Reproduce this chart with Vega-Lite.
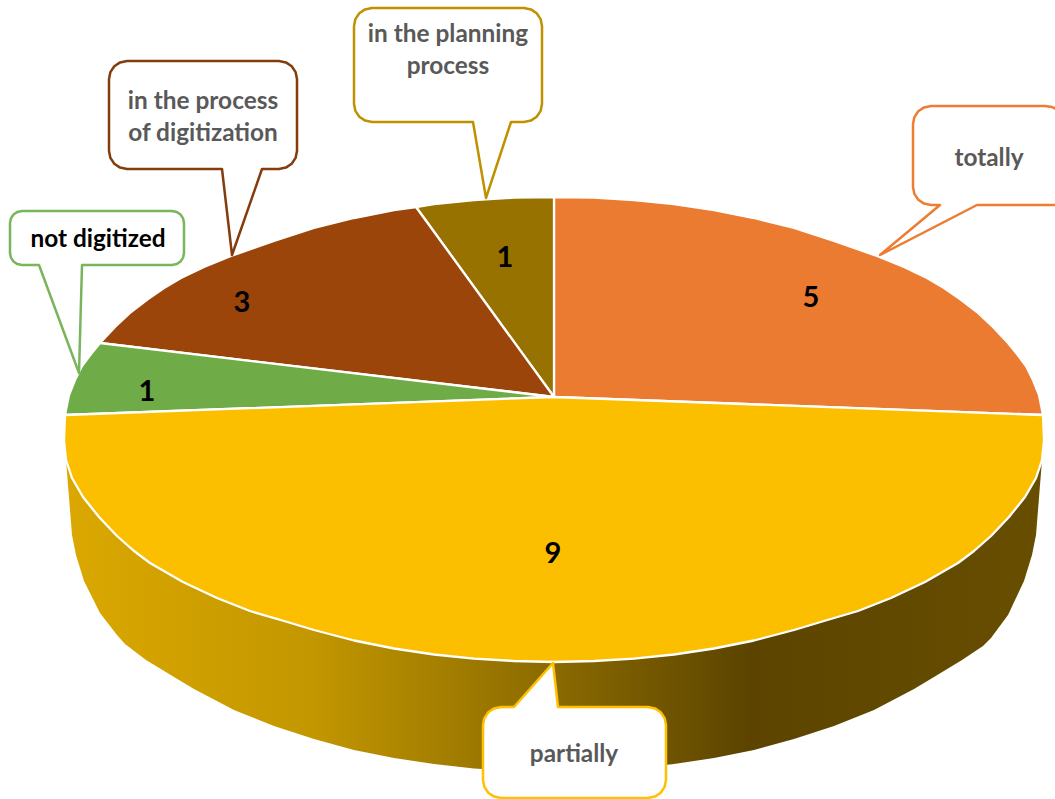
{"$schema":"https://vega.github.io/schema/vega-lite/v6.json","width":1055,"height":799,"autosize":"none","padding":0,"background":"white","view":{"stroke":null},
"datasets":{
"side":[{"x":66,"top":440,"bottom":460},{"x":72,"top":440,"bottom":535},{"x":76,"top":440,"bottom":555},{"x":84,"top":440,"bottom":581},{"x":100,"top":440,"bottom":613},{"x":117,"top":440,"bottom":635},{"x":125,"top":440,"bottom":644},{"x":146,"top":440,"bottom":660},{"x":174,"top":440,"bottom":677},{"x":194,"top":440,"bottom":689},{"x":234,"top":440,"bottom":710},{"x":274,"top":440,"bottom":726},{"x":314,"top":440,"bottom":739},{"x":354,"top":440,"bottom":750},{"x":394,"top":440,"bottom":758},{"x":434,"top":440,"bottom":764},{"x":474,"top":440,"bottom":768.6},{"x":514,"top":440,"bottom":771},{"x":554,"top":440,"bottom":772},{"x":594,"top":440,"bottom":771},{"x":634,"top":440,"bottom":768.6},{"x":674,"top":440,"bottom":764},{"x":714,"top":440,"bottom":758},{"x":754,"top":440,"bottom":750},{"x":794,"top":440,"bottom":739},{"x":834,"top":440,"bottom":726},{"x":874,"top":440,"bottom":710},{"x":914,"top":440,"bottom":689},{"x":934,"top":440,"bottom":677},{"x":962,"top":440,"bottom":660},{"x":983,"top":440,"bottom":646},{"x":991,"top":440,"bottom":638},{"x":1008,"top":440,"bottom":615},{"x":1024,"top":440,"bottom":581},{"x":1032,"top":440,"bottom":555},{"x":1036,"top":440,"bottom":535},{"x":1042,"top":440,"bottom":460}],
"slices":[
{"category":"totally","i":0,"x":554,"y":397},{"category":"totally","i":1,"x":554,"y":197},{"category":"totally","i":2,"x":594,"y":197.7},{"category":"totally","i":3,"x":634,"y":200},{"category":"totally","i":4,"x":674,"y":204},{"category":"totally","i":5,"x":714,"y":210},{"category":"totally","i":6,"x":754,"y":218},{"category":"totally","i":7,"x":794,"y":228},{"category":"totally","i":8,"x":834,"y":241},{"category":"totally","i":9,"x":854,"y":248},{"category":"totally","i":10,"x":877,"y":256},{"category":"totally","i":11,"x":904,"y":267},{"category":"totally","i":12,"x":927,"y":278},{"category":"totally","i":13,"x":944,"y":288},{"category":"totally","i":14,"x":960,"y":299},{"category":"totally","i":15,"x":977,"y":312},{"category":"totally","i":16,"x":993,"y":327},{"category":"totally","i":17,"x":1008,"y":343},{"category":"totally","i":18,"x":1017,"y":354},{"category":"totally","i":19,"x":1026,"y":366},{"category":"totally","i":20,"x":1033,"y":380},{"category":"totally","i":21,"x":1039,"y":395},{"category":"totally","i":22,"x":1043,"y":415},{"category":"totally","i":23,"x":554,"y":397},
{"category":"in the planning process","i":0,"x":554,"y":397},{"category":"in the planning process","i":1,"x":416,"y":207},{"category":"in the planning process","i":2,"x":434,"y":204},{"category":"in the planning process","i":3,"x":474,"y":200},{"category":"in the planning process","i":4,"x":514,"y":197.7},{"category":"in the planning process","i":5,"x":554,"y":197},{"category":"in the planning process","i":6,"x":554,"y":397},
{"category":"in the process of digitization","i":0,"x":554,"y":397},{"category":"in the process of digitization","i":1,"x":100,"y":343},{"category":"in the process of digitization","i":2,"x":115,"y":327},{"category":"in the process of digitization","i":3,"x":131,"y":312},{"category":"in the process of digitization","i":4,"x":148,"y":299},{"category":"in the process of digitization","i":5,"x":164,"y":288},{"category":"in the process of digitization","i":6,"x":181,"y":278},{"category":"in the process of digitization","i":7,"x":204,"y":267},{"category":"in the process of digitization","i":8,"x":231,"y":256},{"category":"in the process of digitization","i":9,"x":254,"y":248},{"category":"in the process of digitization","i":10,"x":274,"y":241},{"category":"in the process of digitization","i":11,"x":314,"y":228},{"category":"in the process of digitization","i":12,"x":354,"y":218},{"category":"in the process of digitization","i":13,"x":394,"y":210},{"category":"in the process of digitization","i":14,"x":416,"y":207},{"category":"in the process of digitization","i":15,"x":554,"y":397},
{"category":"not digitized","i":0,"x":554,"y":397},{"category":"not digitized","i":1,"x":65,"y":415},{"category":"not digitized","i":2,"x":69,"y":395},{"category":"not digitized","i":3,"x":75,"y":380},{"category":"not digitized","i":4,"x":82,"y":366},{"category":"not digitized","i":5,"x":91,"y":354},{"category":"not digitized","i":6,"x":100,"y":343},{"category":"not digitized","i":7,"x":554,"y":397},
{"category":"partially","i":0,"x":554,"y":397},{"category":"partially","i":1,"x":1043,"y":415},{"category":"partially","i":2,"x":1044,"y":440},{"category":"partially","i":3,"x":1042,"y":460},{"category":"partially","i":4,"x":1036,"y":478},{"category":"partially","i":5,"x":1025,"y":497},{"category":"partially","i":6,"x":1009,"y":517},{"category":"partially","i":7,"x":991,"y":536},{"category":"partially","i":8,"x":974,"y":551},{"category":"partially","i":9,"x":958,"y":563},{"category":"partially","i":10,"x":925,"y":582},{"category":"partially","i":11,"x":891,"y":598},{"category":"partially","i":12,"x":858,"y":611},{"category":"partially","i":13,"x":824,"y":621},{"category":"partially","i":14,"x":794,"y":630},{"category":"partially","i":15,"x":754,"y":640.5},{"category":"partially","i":16,"x":714,"y":648.5},{"category":"partially","i":17,"x":674,"y":654.5},{"category":"partially","i":18,"x":634,"y":658.7},{"category":"partially","i":19,"x":594,"y":661},{"category":"partially","i":20,"x":554,"y":662},{"category":"partially","i":21,"x":514,"y":661},{"category":"partially","i":22,"x":474,"y":658.7},{"category":"partially","i":23,"x":434,"y":654.5},{"category":"partially","i":24,"x":394,"y":648.5},{"category":"partially","i":25,"x":354,"y":640.5},{"category":"partially","i":26,"x":314,"y":630},{"category":"partially","i":27,"x":284,"y":621},{"category":"partially","i":28,"x":250,"y":611},{"category":"partially","i":29,"x":217,"y":598},{"category":"partially","i":30,"x":183,"y":582},{"category":"partially","i":31,"x":150,"y":563},{"category":"partially","i":32,"x":134,"y":551},{"category":"partially","i":33,"x":117,"y":536},{"category":"partially","i":34,"x":99,"y":517},{"category":"partially","i":35,"x":83,"y":497},{"category":"partially","i":36,"x":72,"y":478},{"category":"partially","i":37,"x":66,"y":460},{"category":"partially","i":38,"x":64,"y":440},{"category":"partially","i":39,"x":65,"y":415},{"category":"partially","i":40,"x":554,"y":397}
],
"callouts":[
{"category":"in the process of digitization","i":0,"x":109,"y":79},{"category":"in the process of digitization","i":1,"x":110.4,"y":72.1},{"category":"in the process of digitization","i":2,"x":114.3,"y":66.3},{"category":"in the process of digitization","i":3,"x":120.1,"y":62.4},{"category":"in the process of digitization","i":4,"x":127,"y":61},{"category":"in the process of digitization","i":5,"x":279,"y":61},{"category":"in the process of digitization","i":6,"x":285.9,"y":62.4},{"category":"in the process of digitization","i":7,"x":291.7,"y":66.3},{"category":"in the process of digitization","i":8,"x":295.6,"y":72.1},{"category":"in the process of digitization","i":9,"x":297,"y":79},{"category":"in the process of digitization","i":10,"x":297,"y":151},{"category":"in the process of digitization","i":11,"x":295.6,"y":157.9},{"category":"in the process of digitization","i":12,"x":291.7,"y":163.7},{"category":"in the process of digitization","i":13,"x":285.9,"y":167.6},{"category":"in the process of digitization","i":14,"x":279,"y":169},{"category":"in the process of digitization","i":15,"x":262,"y":169},{"category":"in the process of digitization","i":16,"x":232,"y":255},{"category":"in the process of digitization","i":17,"x":222,"y":169},{"category":"in the process of digitization","i":18,"x":127,"y":169},{"category":"in the process of digitization","i":19,"x":120.1,"y":167.6},{"category":"in the process of digitization","i":20,"x":114.3,"y":163.7},{"category":"in the process of digitization","i":21,"x":110.4,"y":157.9},{"category":"in the process of digitization","i":22,"x":109,"y":151},{"category":"in the process of digitization","i":23,"x":109,"y":79},
{"category":"in the planning process","i":0,"x":354,"y":26},{"category":"in the planning process","i":1,"x":355.4,"y":19.1},{"category":"in the planning process","i":2,"x":359.3,"y":13.3},{"category":"in the planning process","i":3,"x":365.1,"y":9.4},{"category":"in the planning process","i":4,"x":372,"y":8},{"category":"in the planning process","i":5,"x":524,"y":8},{"category":"in the planning process","i":6,"x":530.9,"y":9.4},{"category":"in the planning process","i":7,"x":536.7,"y":13.3},{"category":"in the planning process","i":8,"x":540.6,"y":19.1},{"category":"in the planning process","i":9,"x":542,"y":26},{"category":"in the planning process","i":10,"x":542,"y":104},{"category":"in the planning process","i":11,"x":540.6,"y":110.9},{"category":"in the planning process","i":12,"x":536.7,"y":116.7},{"category":"in the planning process","i":13,"x":530.9,"y":120.6},{"category":"in the planning process","i":14,"x":524,"y":122},{"category":"in the planning process","i":15,"x":511,"y":122},{"category":"in the planning process","i":16,"x":486,"y":198},{"category":"in the planning process","i":17,"x":473,"y":122},{"category":"in the planning process","i":18,"x":372,"y":122},{"category":"in the planning process","i":19,"x":365.1,"y":120.6},{"category":"in the planning process","i":20,"x":359.3,"y":116.7},{"category":"in the planning process","i":21,"x":355.4,"y":110.9},{"category":"in the planning process","i":22,"x":354,"y":104},{"category":"in the planning process","i":23,"x":354,"y":26},
{"category":"not digitized","i":0,"x":10,"y":223},{"category":"not digitized","i":1,"x":10.9,"y":218.4},{"category":"not digitized","i":2,"x":13.5,"y":214.5},{"category":"not digitized","i":3,"x":17.4,"y":211.9},{"category":"not digitized","i":4,"x":22,"y":211},{"category":"not digitized","i":5,"x":172,"y":211},{"category":"not digitized","i":6,"x":176.6,"y":211.9},{"category":"not digitized","i":7,"x":180.5,"y":214.5},{"category":"not digitized","i":8,"x":183.1,"y":218.4},{"category":"not digitized","i":9,"x":184,"y":223},{"category":"not digitized","i":10,"x":184,"y":253},{"category":"not digitized","i":11,"x":183.1,"y":257.6},{"category":"not digitized","i":12,"x":180.5,"y":261.5},{"category":"not digitized","i":13,"x":176.6,"y":264.1},{"category":"not digitized","i":14,"x":172,"y":265},{"category":"not digitized","i":15,"x":82,"y":265},{"category":"not digitized","i":16,"x":79,"y":373},{"category":"not digitized","i":17,"x":39,"y":265},{"category":"not digitized","i":18,"x":22,"y":265},{"category":"not digitized","i":19,"x":17.4,"y":264.1},{"category":"not digitized","i":20,"x":13.5,"y":261.5},{"category":"not digitized","i":21,"x":10.9,"y":257.6},{"category":"not digitized","i":22,"x":10,"y":253},{"category":"not digitized","i":23,"x":10,"y":223},
{"category":"totally","i":0,"x":1058,"y":205},{"category":"totally","i":1,"x":977,"y":205},{"category":"totally","i":2,"x":880,"y":255},{"category":"totally","i":3,"x":940,"y":205},{"category":"totally","i":4,"x":931,"y":205},{"category":"totally","i":5,"x":924.1,"y":203.6},{"category":"totally","i":6,"x":918.3,"y":199.7},{"category":"totally","i":7,"x":914.4,"y":193.9},{"category":"totally","i":8,"x":913,"y":187},{"category":"totally","i":9,"x":913,"y":124},{"category":"totally","i":10,"x":914.4,"y":117.1},{"category":"totally","i":11,"x":918.3,"y":111.3},{"category":"totally","i":12,"x":924.1,"y":107.4},{"category":"totally","i":13,"x":931,"y":106},{"category":"totally","i":14,"x":1045,"y":106},{"category":"totally","i":15,"x":1052,"y":107},{"category":"totally","i":16,"x":1058,"y":110},
{"category":"partially","i":0,"x":483,"y":725},{"category":"partially","i":1,"x":484.4,"y":718.1},{"category":"partially","i":2,"x":488.3,"y":712.3},{"category":"partially","i":3,"x":494.1,"y":708.4},{"category":"partially","i":4,"x":501,"y":707},{"category":"partially","i":5,"x":514,"y":707},{"category":"partially","i":6,"x":553,"y":663},{"category":"partially","i":7,"x":558,"y":707},{"category":"partially","i":8,"x":648,"y":707},{"category":"partially","i":9,"x":654.9,"y":708.4},{"category":"partially","i":10,"x":660.7,"y":712.3},{"category":"partially","i":11,"x":664.6,"y":718.1},{"category":"partially","i":12,"x":666,"y":725},{"category":"partially","i":13,"x":666,"y":780},{"category":"partially","i":14,"x":664.6,"y":786.9},{"category":"partially","i":15,"x":660.7,"y":792.7},{"category":"partially","i":16,"x":654.9,"y":796.6},{"category":"partially","i":17,"x":648,"y":798},{"category":"partially","i":18,"x":501,"y":798},{"category":"partially","i":19,"x":494.1,"y":796.6},{"category":"partially","i":20,"x":488.3,"y":792.7},{"category":"partially","i":21,"x":484.4,"y":786.9},{"category":"partially","i":22,"x":483,"y":780},{"category":"partially","i":23,"x":483,"y":725}
],
"values":[{"category":"totally","value":5,"x":811,"y":298},{"category":"partially","value":9,"x":553,"y":554},{"category":"not digitized","value":1,"x":147,"y":392},{"category":"in the process of digitization","value":3,"x":242,"y":303},{"category":"in the planning process","value":1,"x":505,"y":258}],
"labels":[{"text":"totally","x":989,"y":159,"kind":"grey"},{"text":"in the planning\nprocess","x":448,"y":35,"kind":"grey"},{"text":"in the process\nof digitization","x":203,"y":102,"kind":"grey"},{"text":"partially","x":574,"y":755,"kind":"grey"},{"text":"not digitized","x":98,"y":240,"kind":"black"}]
},
"encoding":{"x":{"field":"x","type":"quantitative","scale":{"domain":[0,1055],"nice":false,"zero":false},"axis":null},"y":{"field":"y","type":"quantitative","scale":{"domain":[799,0],"nice":false,"zero":false},"axis":null}},
"layer":[
{"data":{"name":"side"},"mark":{"type":"area","color":{"gradient":"linear","x1":0,"x2":1,"y1":0,"y2":0,"stops":[{"offset":0,"color":"#dba800"},{"offset":0.25,"color":"#c39700"},{"offset":0.5,"color":"#8a6a00"},{"offset":0.7,"color":"#5c4400"},{"offset":1,"color":"#674e00"}]}},"encoding":{"y":{"field":"top","type":"quantitative","scale":{"domain":[799,0],"nice":false,"zero":false},"axis":null},"y2":{"field":"bottom"}}},
{"data":{"name":"slices"},"mark":{"type":"line","stroke":"white","strokeWidth":2.3,"strokeJoin":"round"},"encoding":{"fill":{"field":"category","type":"nominal","legend":null,"scale":{"domain":["totally","partially","not digitized","in the process of digitization","in the planning process"],"range":["#ea7b31","#fbbf00","#6fac47","#9b450b","#977200"]}},"detail":{"field":"category"},"order":{"field":"i","type":"quantitative"}}},
{"data":{"name":"callouts"},"mark":{"type":"line","fill":"white","strokeWidth":2.5,"strokeJoin":"round","clip":true},"encoding":{"stroke":{"field":"category","type":"nominal","legend":null,"scale":{"domain":["totally","partially","not digitized","in the process of digitization","in the planning process"],"range":["#ed7d31","#ffc000","#7ab55c","#843c0c","#bf9000"]}},"detail":{"field":"category"},"order":{"field":"i","type":"quantitative"}}},
{"data":{"name":"values"},"mark":{"type":"text","font":"Lato","fontSize":29,"fontWeight":"bold","color":"#000000","align":"center","baseline":"middle"},"encoding":{"text":{"field":"value","type":"quantitative"}}},
{"data":{"name":"labels"},"mark":{"type":"text","font":"Lato","fontSize":24.4,"fontWeight":"bold","align":"center","baseline":"middle","lineBreak":"\n","lineHeight":32},"encoding":{"text":{"field":"text","type":"nominal"},"color":{"field":"kind","type":"nominal","legend":null,"scale":{"domain":["grey","black"],"range":["#595959","#000000"]}}}}
]}
